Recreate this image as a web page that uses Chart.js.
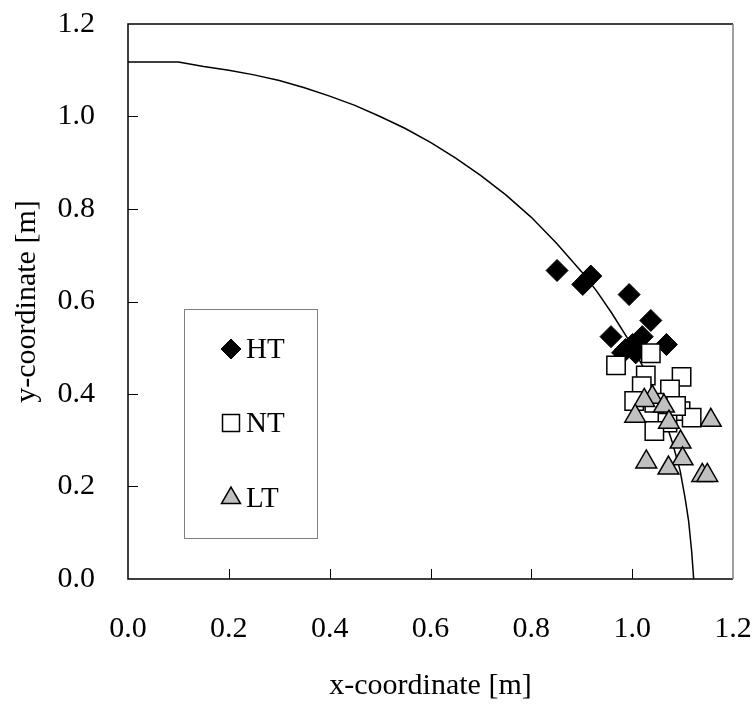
<!DOCTYPE html>
<html>
<head>
<meta charset="utf-8">
<script src="https://cdn.jsdelivr.net/npm/chart.js@4.4.0/dist/chart.umd.min.js"></script>
<style>
  html, body { margin: 0; padding: 0; background: #fff; }
  canvas { display: block; }
</style>
</head>
<body>
<canvas id="chartPath" width="755" height="706"></canvas>
<script>
// boundary curve
const curveX = [0.00, 0.10, 0.15, 0.20, 0.25, 0.30, 0.35, 0.40, 0.45, 0.50, 0.55, 0.60, 0.65, 0.70, 0.75,
  0.80, 0.85, 0.90, 0.93, 0.96, 0.99, 1.02, 1.04, 1.06, 1.08, 1.095, 1.105, 1.112, 1.118, 1.122]
const curveY = [1.118, 1.118, 1.108, 1.100, 1.090, 1.078, 1.062, 1.044, 1.024, 1.000, 0.974, 0.944, 0.910, 0.872, 0.830,
  0.782, 0.726, 0.664, 0.622, 0.574, 0.522, 0.462, 0.416, 0.362, 0.294, 0.235, 0.175, 0.125, 0.060, 0.000]

const htX = [0.851, 0.902, 0.918, 0.994, 1.037, 0.958, 1.068, 1.020, 1.001, 0.987, 1.007, 0.981]
const htY = [0.667, 0.637, 0.655, 0.615, 0.559, 0.524, 0.507, 0.524, 0.507, 0.496, 0.489, 0.489]

const ntX = [0.968, 1.037, 1.027, 1.098, 1.075, 1.019, 1.004, 1.044, 1.096, 1.118, 1.070, 1.044, 1.087]
const ntY = [0.462, 0.488, 0.440, 0.437, 0.410, 0.417, 0.385, 0.381, 0.363, 0.349, 0.338, 0.320, 0.374]

const ltX = [1.040, 1.024, 1.063, 1.006, 1.073, 1.156, 1.096, 1.100, 1.028, 1.072, 1.139, 1.149]
const ltY = [0.393, 0.386, 0.374, 0.352, 0.339, 0.343, 0.296, 0.260, 0.253, 0.240, 0.224, 0.224]

const seriesNames = ['HT', 'NT', 'LT']
const xTicks = [0.0, 0.2, 0.4, 0.6, 0.8, 1.0, 1.2]
const yTicks = [0.0, 0.2, 0.4, 0.6, 0.8, 1.0, 1.2]

const toPoints = (xs, ys) => xs.map((v, i) => ({x: v, y: ys[i]}))

const serif = "'Liberation Serif', 'Times New Roman', serif"
Chart.defaults.font.family = serif
Chart.defaults.color = '#000'

const styles = [
  {pointStyle: 'rectRot', radius: 11, backgroundColor: '#000', borderColor: '#000', borderWidth: 1},
  {pointStyle: 'rect', radius: 13, backgroundColor: '#fff', borderColor: '#000', borderWidth: 1.5},
  {pointStyle: 'triangle', radius: 12, backgroundColor: '#c0c0c0', borderColor: '#000', borderWidth: 1.5}
]

function marker(ctx, st, x, y, r) {
  ctx.fillStyle = st.backgroundColor
  ctx.strokeStyle = st.borderColor
  ctx.lineWidth = st.borderWidth
  if (Chart.helpers && Chart.helpers.drawPoint) {
    Chart.helpers.drawPoint(ctx, {pointStyle: st.pointStyle, radius: r, borderWidth: st.borderWidth, rotation: 0}, x, y)
    return
  }
  ctx.beginPath()
  if (st.pointStyle === 'rectRot') {
    ctx.moveTo(x, y - r); ctx.lineTo(x + r, y); ctx.lineTo(x, y + r); ctx.lineTo(x - r, y)
  } else if (st.pointStyle === 'rect') {
    const s = r * Math.SQRT1_2
    ctx.rect(x - s, y - s, 2 * s, 2 * s)
  } else {
    ctx.moveTo(x, y - r); ctx.lineTo(x + r * 0.866, y + r / 2); ctx.lineTo(x - r * 0.866, y + r / 2)
  }
  ctx.closePath()
  ctx.fill()
  ctx.stroke()
}

// box round the plot, inward tick marks
const framePlugin = {
  id: 'frame',
  afterDatasetsDraw(chart) {
    const {ctx, chartArea: a, scales} = chart
    ctx.save()
    ctx.strokeStyle = '#000'
    ctx.lineWidth = 1
    ctx.beginPath()
    xTicks.slice(1, -1).forEach(v => {
      const px = Math.round(scales.x.getPixelForValue(v)) + 0.5
      ctx.moveTo(px, a.bottom)
      ctx.lineTo(px, a.bottom - 10)
    })
    yTicks.slice(1, -1).forEach(v => {
      const py = Math.round(scales.y.getPixelForValue(v)) + 0.5
      ctx.moveTo(a.left, py)
      ctx.lineTo(a.left + 10, py)
    })
    ctx.stroke()

    ctx.lineWidth = 1.5
    ctx.beginPath()
    ctx.moveTo(a.right, a.top)
    ctx.lineTo(a.left, a.top)
    ctx.lineTo(a.left, a.bottom)
    ctx.lineTo(a.right, a.bottom)
    ctx.stroke()
    ctx.strokeStyle = '#808080'
    ctx.beginPath()
    ctx.moveTo(a.right, a.top)
    ctx.lineTo(a.right, a.bottom)
    ctx.stroke()
    ctx.restore()
  }
}

// legend drawn inside the plot, like the original
const legendPlugin = {
  id: 'boxLegend',
  afterDraw(chart) {
    const ctx = chart.ctx
    ctx.save()
    ctx.strokeStyle = '#808080'
    ctx.lineWidth = 1
    ctx.strokeRect(184.5, 309.5, 133, 229)
    const rows = [349, 423, 498]
    const radii = [10, 12, 11]
    rows.forEach((ry, i) => {
      marker(ctx, styles[i], 231, ry, radii[i])
      ctx.fillStyle = '#000'
      ctx.font = '29px ' + serif
      ctx.textBaseline = 'middle'
      ctx.textAlign = 'left'
      ctx.fillText(seriesNames[i], 246, ry + 1)
    })
    ctx.restore()
  }
}

const scatterSet = (i, xs, ys, order) => ({
  label: seriesNames[i],
  data: toPoints(xs, ys),
  order: order,
  showLine: false,
  pointStyle: styles[i].pointStyle,
  pointRadius: styles[i].radius,
  pointHoverRadius: styles[i].radius,
  pointBorderWidth: styles[i].borderWidth,
  pointBackgroundColor: styles[i].backgroundColor,
  pointBorderColor: styles[i].borderColor
})

new Chart(document.getElementById('chartPath'), {
  type: 'scatter',
  data: {
    datasets: [
      {
        label: 'boundary',
        data: toPoints(curveX, curveY),
        showLine: true,
        borderColor: '#000',
        borderWidth: 1.5,
        pointRadius: 0,
        tension: 0,
        order: 4
      },
      scatterSet(0, htX, htY, 3),
      scatterSet(1, ntX, ntY, 2),
      scatterSet(2, ltX, ltY, 1)
    ]
  },
  options: {
    responsive: false,
    animation: false,
    devicePixelRatio: 1,
    layout: {padding: {top: 24, right: 22, bottom: 0, left: 0}},
    plugins: {legend: {display: false}, tooltip: {enabled: false}},
    scales: {
      x: {
        type: 'linear',
        min: 0,
        max: 1.2,
        grid: {display: false, drawTicks: false},
        border: {display: false},
        afterBuildTicks: s => { s.ticks = xTicks.map(v => ({value: v})) },
        afterFit: s => { s.height = 127; s.paddingLeft = 0; s.paddingRight = 0 },
        ticks: {padding: 32, font: {size: 30}, color: '#000', callback: v => v.toFixed(1)},
        title: {display: true, text: 'x-coordinate [m]', font: {size: 30}, color: '#000', padding: {top: 0, bottom: 2}}
      },
      y: {
        type: 'linear',
        min: 0,
        max: 1.2,
        grid: {display: false, drawTicks: false},
        border: {display: false},
        afterBuildTicks: s => { s.ticks = yTicks.map(v => ({value: v})) },
        afterFit: s => { s.width = 128; s.paddingTop = 0; s.paddingBottom = 0 },
        ticks: {padding: 33, font: {size: 30}, color: '#000', callback: v => v.toFixed(1)},
        title: {display: true, text: 'y-coordinate [m]', font: {size: 30}, color: '#000', padding: {top: 9, bottom: 0}}
      }
    }
  },
  plugins: [framePlugin, legendPlugin]
})
</script>
</body>
</html>
